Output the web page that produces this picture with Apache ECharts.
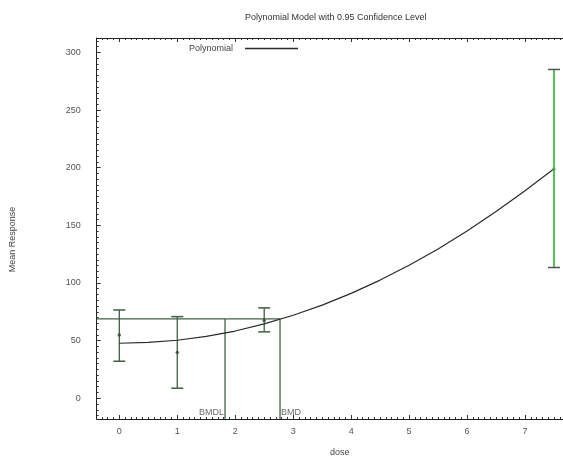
<!DOCTYPE html>
<html>
<head>
<meta charset="utf-8">
<script src="https://cdn.jsdelivr.net/npm/echarts@6/dist/echarts.min.js"></script>
<style>html,body{margin:0;padding:0;background:#fff}#c{width:563px;height:457px}</style>
</head>
<body>
<div id="c"></div>
<script>
// ---- data ----
var doses = [0, 1, 2.5, 7.5];
var means = [54.9, 39.6, 67.4, 198.8];
var upper = [76.6, 70.8, 78.4, 285.2];
var lower = [32.1, 8.7, 57.6, 113.4];
var curveDose = [0, 0.5, 1, 1.5, 2, 2.5, 3, 3.5, 4, 4.5, 5, 5.5, 6, 6.5, 7, 7.5];
var curveMean = [47.7, 48.4, 50.3, 53.6, 58.3, 64.5, 72, 80.8, 91, 102.5, 115.3, 129.5, 145, 162, 180, 199];
var bmrLevel = 68.8;
var bmdl = 1.824;
var bmd = 2.773;
var xTickValues = [0, 1, 2, 3, 4, 5, 6, 7];
var yTickValues = [0, 50, 100, 150, 200, 250, 300];
var XMIN = -0.39, XMAX = 7.655, YMIN = -18, YMAX = 312.5;

var FONT = 'Liberation Sans';
var xMinor = [], yMinor = [];
for (var i = -3; i <= 76; i++) { if (i % 10 !== 0) xMinor.push(i / 10); }
for (var j = -3; j <= 62; j++) { if (j % 10 !== 0) yMinor.push(j * 5); }

var dark = '#3f6040';
var chart = echarts.init(document.getElementById('c'));

function xAx(pos, ticks, len, showLine, showLabel, extra) {
  var a = {
    type: 'value', position: pos, min: XMIN, max: XMAX,
    axisLine: { show: showLine, onZero: false, lineStyle: { color: '#222', width: 1 } },
    axisTick: { show: true, inside: true, length: len, customValues: ticks, lineStyle: { color: '#333' } },
    axisLabel: { show: showLabel, customValues: xTickValues, color: '#555', fontSize: 9, fontFamily: FONT, margin: 8 },
    splitLine: { show: false }
  };
  return Object.assign(a, extra || {});
}
function yAx(ticks, len, showLine, showLabel, extra) {
  var a = {
    type: 'value', position: 'left', min: YMIN, max: YMAX,
    axisLine: { show: showLine, onZero: false, lineStyle: { color: '#222', width: 1 } },
    axisTick: { show: true, inside: true, length: len, customValues: ticks, lineStyle: { color: '#333' } },
    axisLabel: { show: showLabel, customValues: yTickValues, color: '#555', fontSize: 9, fontFamily: FONT, margin: 16 },
    splitLine: { show: false }
  };
  return Object.assign(a, extra || {});
}

var option = {
  animation: false,
  backgroundColor: '#fff',
  title: {
    text: 'Polynomial Model with 0.95 Confidence Level',
    left: 240, top: 8,
    textStyle: { fontSize: 9, fontWeight: 'normal', color: '#333', fontFamily: FONT }
  },
  legend: {
    data: ['Polynomial'], left: 189, top: 44, align: 'right', padding: 0,
    itemWidth: 53, itemHeight: 1.5, icon: 'rect',
    textStyle: { fontSize: 9, color: '#444', fontFamily: FONT, padding: [0, 7, 0, 0] }
  },
  grid: { left: 96.7, right: 0, top: 38, bottom: 38, containLabel: false, outerBoundsMode: 'none' },
  xAxis: [
    xAx('bottom', xTickValues, 4, true, true, {
      name: 'dose', nameLocation: 'middle', nameGap: 29,
      nameTextStyle: { fontSize: 9, color: '#444', fontFamily: FONT, padding: [0, 0, 0, 20] }
    }),
    xAx('bottom', xMinor, 2, false, false),
    xAx('top', xTickValues, 4, true, false),
    xAx('top', xMinor, 2, false, false)
  ],
  yAxis: [
    yAx(yTickValues, 4, true, true, {
      name: 'Mean Response', nameLocation: 'middle', nameGap: 80, nameRotate: 90,
      nameTextStyle: { fontSize: 9, color: '#444', fontFamily: FONT, padding: [0, 22, 0, 0] }
    }),
    yAx(yMinor, 2, false, false)
  ],
  series: [
    {
      name: 'Polynomial', type: 'line', showSymbol: false, symbol: 'none',
      data: curveDose.map(function (d, k) { return [d, curveMean[k]]; }),
      lineStyle: { color: '#2a2a2a', width: 1.2 }, itemStyle: { color: '#2a2a2a' }, z: 5
    },
    {
      type: 'line', showSymbol: false, symbol: 'none', silent: true,
      data: [[XMIN, bmrLevel], [bmd, bmrLevel]],
      lineStyle: { color: dark, width: 1.3 }
    },
    {
      type: 'line', showSymbol: false, symbol: 'none', silent: true,
      data: [[bmdl, bmrLevel], [bmdl, YMIN]],
      lineStyle: { color: dark, width: 1.3 }
    },
    {
      type: 'line', showSymbol: false, symbol: 'none', silent: true,
      data: [[bmd, bmrLevel], [bmd, YMIN]],
      lineStyle: { color: dark, width: 1.3 }
    },
    {
      type: 'custom', silent: true, z: 4,
      data: doses.map(function (d, k) { return [d, lower[k], upper[k]]; }),
      renderItem: function (params, api) {
        var lo = api.coord([api.value(0), api.value(1)]);
        var hi = api.coord([api.value(0), api.value(2)]);
        var last = params.dataIndex === doses.length - 1;
        var barColor = last ? '#55c355' : dark;
        var capColor = last ? '#555' : dark;
        var hw = 6;
        return {
          type: 'group',
          children: [
            { type: 'line', shape: { x1: lo[0], y1: lo[1], x2: hi[0], y2: hi[1] }, style: { stroke: barColor, lineWidth: last ? 2 : 1.3 } },
            { type: 'line', shape: { x1: lo[0] - hw, y1: lo[1], x2: lo[0] + hw, y2: lo[1] }, style: { stroke: capColor, lineWidth: 1.5 } },
            { type: 'line', shape: { x1: hi[0] - hw, y1: hi[1], x2: hi[0] + hw, y2: hi[1] }, style: { stroke: capColor, lineWidth: 1.5 } }
          ]
        };
      }
    },
    {
      type: 'scatter', symbolSize: 3.5, silent: true, z: 6,
      data: doses.map(function (d, k) {
        return { value: [d, means[k]], itemStyle: { color: k === doses.length - 1 ? '#3cb03c' : '#2d4a2d' } };
      })
    },
    {
      type: 'scatter', symbolSize: 0, silent: true,
      data: [
        { value: [bmdl, -12], label: { show: true, formatter: 'BMDL', position: 'left', distance: 1 } },
        { value: [bmd, -12], label: { show: true, formatter: 'BMD', position: 'right', distance: 1 } }
      ],
      label: { fontSize: 9, color: '#444', fontFamily: FONT }
    }
  ]
};
chart.setOption(option);
</script>
</body>
</html>
